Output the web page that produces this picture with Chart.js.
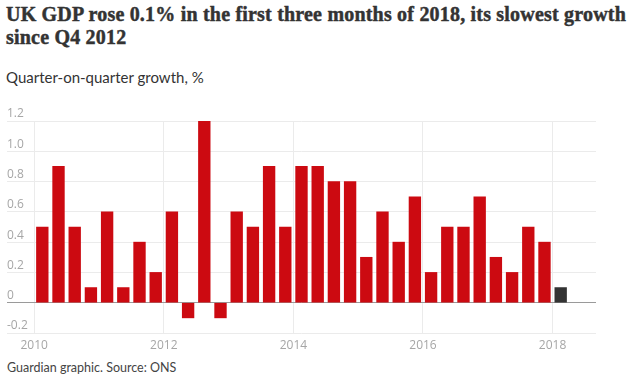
<!DOCTYPE html>
<html>
<head>
<meta charset="utf-8">
<script src="https://cdn.jsdelivr.net/npm/chart.js@4.4.1/dist/chart.umd.min.js"></script>
<style>
  html, body { margin: 0; padding: 0; background: #fff; }
  body { width: 636px; height: 379px; position: relative; overflow: hidden; }
  #title { position: absolute; left: 6px; top: 3px; font-family: "Liberation Serif", serif; font-weight: bold; font-size: 20px; line-height: 22.5px; color: #333; white-space: nowrap; -webkit-text-stroke: 0.45px #333; }
  #subtitle { position: absolute; left: 6px; top: 68px; font-family: Lato, "Open Sans", sans-serif; font-size: 15px; color: #333; white-space: nowrap; }
  #footer { position: absolute; left: 7px; top: 360px; font-family: Lato, "Open Sans", sans-serif; font-size: 12.5px; color: #444; white-space: nowrap; }
  #wrap { position: absolute; left: 0; top: 100px; width: 636px; height: 260px; }
</style>
</head>
<body>
<div id="title"><span id="t1">UK GDP rose 0.1% in the first three months of 2018, its slowest growth</span><br><span id="t2">since Q4 2012</span></div>
<div id="subtitle">Quarter-on-quarter growth, %</div>
<div id="wrap"><canvas id="c" width="636" height="260"></canvas></div>
<div id="footer">Guardian graphic. Source: ONS</div>
<script>
// ---- data ----
const quarters = [
  '2010 Q1','2010 Q2','2010 Q3','2010 Q4',
  '2011 Q1','2011 Q2','2011 Q3','2011 Q4',
  '2012 Q1','2012 Q2','2012 Q3','2012 Q4',
  '2013 Q1','2013 Q2','2013 Q3','2013 Q4',
  '2014 Q1','2014 Q2','2014 Q3','2014 Q4',
  '2015 Q1','2015 Q2','2015 Q3','2015 Q4',
  '2016 Q1','2016 Q2','2016 Q3','2016 Q4',
  '2017 Q1','2017 Q2','2017 Q3','2017 Q4',
  '2018 Q1'
];
const growth = [
  0.5, 0.9, 0.5, 0.1,
  0.6, 0.1, 0.4, 0.2,
  0.6, -0.1, 1.2, -0.1,
  0.6, 0.5, 0.9, 0.5,
  0.9, 0.9, 0.8, 0.8,
  0.3, 0.6, 0.4, 0.7,
  0.2, 0.5, 0.5, 0.7,
  0.3, 0.2, 0.5, 0.4,
  0.1
];
const xTickYears = [2010, 2012, 2014, 2016, 2018];
const yTicks = [-0.2, 0, 0.2, 0.4, 0.6, 0.8, 1.0, 1.2];
const highlightQuarter = '2018 Q1';

// fit title line width
(function fitTitle(){
  const t1 = document.getElementById('t1');
  const target = 620;
  const w = t1.getBoundingClientRect().width;
  const n = t1.textContent.length;
  const ls = (target - w) / n;
  document.getElementById('title').style.letterSpacing = ls + 'px';
})();

// quarter label -> time position (centre of quarter)
const points = quarters.map((q, i) => {
  const [yr, qq] = q.split(' Q');
  return { x: Number(yr) + (Number(qq) - 1) / 4 + 0.125, y: growth[i], label: q };
});

new Chart(document.getElementById('c'), {
  type: 'bar',
  data: {
    datasets: [{
      data: points,
      backgroundColor: points.map(p => p.label === highlightQuarter ? '#333333' : '#cc0a11'),
      borderWidth: 0,
      barThickness: 11.7
    }]
  },
  options: {
    responsive: false,
    animation: false,
    events: [],
    layout: { padding: { left: 7, right: 40, top: 21, bottom: 0 } },
    plugins: { legend: { display: false }, tooltip: { enabled: false } },
    scales: {
      x: {
        type: 'linear',
        offset: false,
        min: 2009.58,
        max: 2018.67,
        afterBuildTicks: s => { s.ticks = xTickYears.map(v => ({ value: v })); },
        afterFit: s => { s.height = 27; },
        grid: { offset: false, color: '#ebebeb', lineWidth: 1, drawTicks: false },
        border: { display: false },
        ticks: {
          color: '#a6a6a6',
          font: { family: 'Open Sans', size: 12 },
          padding: 5,
          maxRotation: 0,
          autoSkip: false,
          callback: v => String(v)
        }
      },
      y: {
        min: -0.2,
        max: 1.2,
        afterBuildTicks: s => { s.ticks = yTicks.map(v => ({ value: v })); },
        afterFit: s => { s.width = 0; },
        grid: {
          color: c => (c.tick && Math.abs(c.tick.value) < 1e-9) ? '#9a9a9a' : '#ebebeb',
          lineWidth: 1,
          drawTicks: false
        },
        border: { display: false },
        ticks: {
          mirror: true,
          padding: 0,
          labelOffset: -7,
          color: '#a6a6a6',
          font: { family: 'Open Sans', size: 12 },
          callback: v => Math.abs(v) < 1e-9 ? '0' : Number(v).toFixed(1)
        }
      }
    }
  }
});
</script>
</body>
</html>
